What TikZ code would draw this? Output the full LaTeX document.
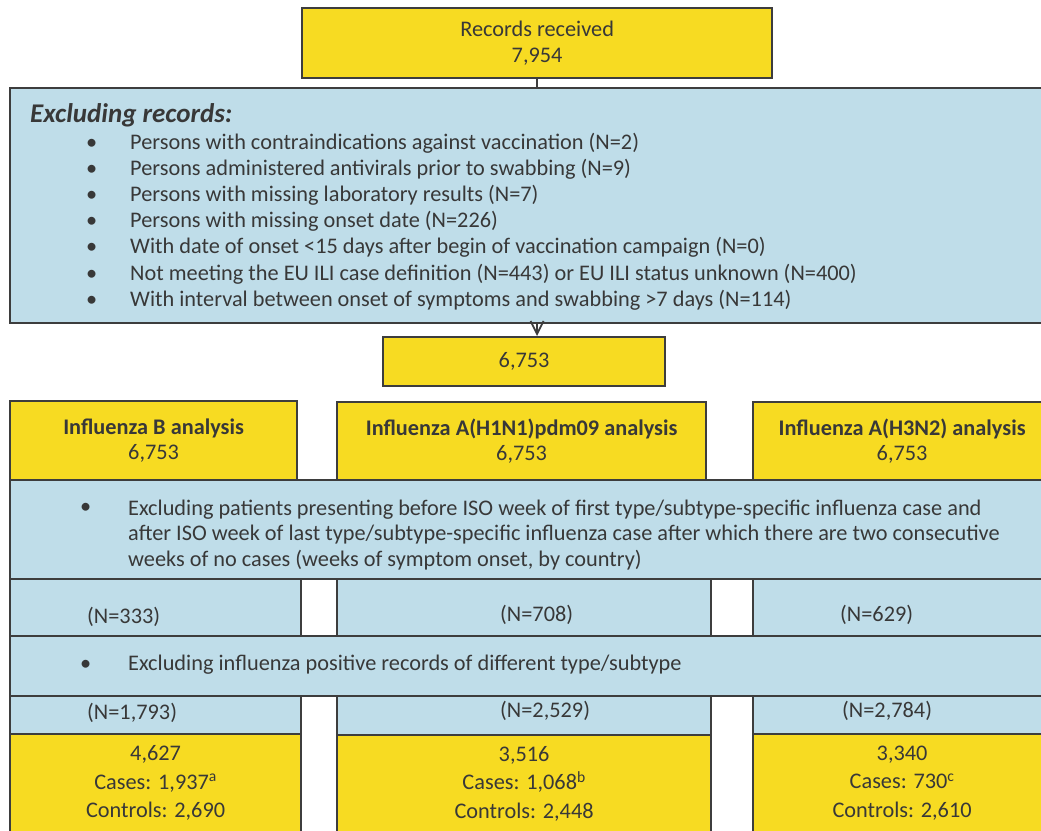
\documentclass[tikz,border=0pt]{standalone}
\usepackage{fontspec}
\setmainfont{Carlito}
\usetikzlibrary{positioning,arrows.meta}
\definecolor{boxyellow}{HTML}{F7DB22}
\definecolor{boxblue}{HTML}{BFDDE9}
\definecolor{boxline}{HTML}{3D3D3D}
\definecolor{txtgray}{HTML}{383838}
\tikzset{
        flowbox/.style={draw=boxline, line width=2.2pt, anchor=north west, inner sep=0pt,
                        text=txtgray, align=center, font=\fontsize{22.3}{25.5}\selectfont},
        % Yellow count boxes
        count_box/.style={flowbox, fill=boxyellow},
        % Blue exclusion boxes
        excl_box/.style={flowbox, fill=boxblue},
        % Free text inside the blue boxes
        list_text/.style={anchor=west, inner sep=0pt, text=txtgray, align=left,
                          font=\fontsize{22.3}{25.5}\selectfont},
        % Connectors
        link_line/.style={draw=boxline, line width=2pt},
        link_arrow/.style={link_line, -{Straight Barb[length=13pt, width=13pt, line width=1.8pt]}}
}
\newcommand{\bulletbox}{\makebox[44pt][l]{\textbullet}}

\begin{document}
\begin{tikzpicture}[x=1pt, y=-1pt]
    \useasboundingbox (0,0) rectangle (1041,830);
    \clip (0,0) rectangle (1041,830);

    % records received
    \node[count_box, minimum width=470pt, minimum height=70pt] (received) at (301,7)
        {Records received\\7,954};

    % general exclusions
    \node[excl_box, minimum width=1041pt, minimum height=235pt] (excl) at (9,87) {};
    \node[list_text, font=\fontsize{27}{30}\selectfont\bfseries\itshape] (excl_title) at (30,115) {Excluding records:};
    \node[list_text] (excl1) at (86,143) {\bulletbox Persons with contraindications against vaccination (N=2)};
    \node[list_text] (excl2) at (86,169) {\bulletbox Persons administered antivirals prior to swabbing (N=9)};
    \node[list_text] (excl3) at (86,195) {\bulletbox Persons with missing laboratory results (N=7)};
    \node[list_text] (excl4) at (86,221) {\bulletbox Persons with missing onset date (N=226)};
    \node[list_text] (excl5) at (86,247) {\bulletbox With date of onset <15 days after begin of vaccination campaign (N=0)};
    \node[list_text] (excl6) at (86,274) {\bulletbox Not meeting the EU ILI case definition (N=443) or EU ILI status unknown (N=400)};
    \node[list_text] (excl7) at (86,300) {\bulletbox With interval between onset of symptoms and swabbing >7 days (N=114)};

    % remaining records
    \node[count_box, minimum width=282pt, minimum height=49pt] (remaining) at (382,336) {6,753};

    % three analyses
    \node[count_box, minimum width=287pt, minimum height=79pt] (analysis_b) at (9,400)
        {\textbf{Influenza B analysis}\\6,753};
    \node[count_box, minimum width=369pt, minimum height=78pt] (analysis_h1) at (336,401)
        {\textbf{Influenza A(H1N1)pdm09 analysis}\\6,753};
    \node[count_box, minimum width=298pt, minimum height=78pt] (analysis_h3) at (752,401)
        {\textbf{Influenza A(H3N2) analysis}\\6,753};

    % season exclusion
    \node[excl_box, minimum width=1041pt, minimum height=99pt] (season_excl) at (9,479) {};
    \node[list_text] (season_dot) at (80,508) {\textbullet};
    \node[list_text] (season_text) at (128,535)
        {Excluding patients presenting before ISO week of first type/subtype-specific influenza case and\\
         after ISO week of last type/subtype-specific influenza case after which there are two consecutive\\
         weeks of no cases (weeks of symptom onset, by country)};

    \node[excl_box, minimum width=291pt, minimum height=57pt] (season_b) at (9,578) {};
    \node[excl_box, minimum width=374pt, minimum height=57pt] (season_h1) at (336,578) {};
    \node[excl_box, minimum width=298pt, minimum height=57pt] (season_h3) at (752,578) {};
    \node[list_text] (season_b_n) at (87,617) {(N=333)};
    \node[list_text] (season_h1_n) at (500,615) {(N=708)};
    \node[list_text] (season_h3_n) at (840,615) {(N=629)};

    % type/subtype exclusion
    \node[excl_box, minimum width=1041pt, minimum height=60pt] (type_excl) at (9,635) {};
    \node[list_text] (type_text) at (80,665) {\bulletbox\hspace{4pt}Excluding influenza positive records of different type/subtype};

    \node[excl_box, minimum width=291pt, minimum height=38pt] (type_b) at (9,695) {};
    \node[excl_box, minimum width=374pt, minimum height=39pt] (type_h1) at (336,695) {};
    \node[excl_box, minimum width=298pt, minimum height=38pt] (type_h3) at (752,695) {};
    \node[list_text] (type_b_n) at (87,713) {(N=1,793)};
    \node[list_text] (type_h1_n) at (500,711) {(N=2,529)};
    \node[list_text] (type_h3_n) at (842,711) {(N=2,784)};

    % final counts
    \node[count_box, minimum width=291pt, minimum height=98pt, font=\fontsize{22.3}{28.5}\selectfont] (final_b) at (9,733)
        {4,627\\Cases: 1,937\textsuperscript{a}\\Controls: 2,690};
    \node[count_box, minimum width=374pt, minimum height=97pt, font=\fontsize{22.3}{28.5}\selectfont] (final_h1) at (336,734)
        {3,516\\Cases: 1,068\textsuperscript{b}\\Controls: 2,448};
    \node[count_box, minimum width=298pt, minimum height=98pt, font=\fontsize{22.3}{28.5}\selectfont] (final_h3) at (752,733)
        {3,340\\Cases: 730\textsuperscript{c}\\Controls: 2,610};

    % connectors
    \draw[link_line] (received) -- (received.south |- excl.north);
    \draw[link_arrow] (received.south |- excl.south) -- (received.south |- remaining.north);
\end{tikzpicture}
\end{document}
